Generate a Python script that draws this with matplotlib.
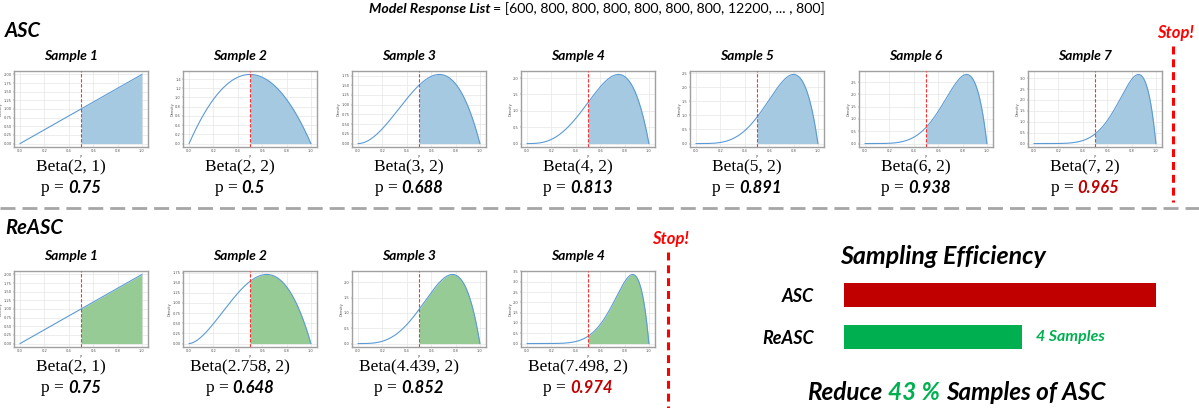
import math

import matplotlib
matplotlib.use("Agg")
import matplotlib.pyplot as plt
import numpy as np

# Model responses shown in the header
RESPONSE_LIST = [600, 800, 800, 800, 800, 800, 800, 12200]
RESPONSE_TAIL = 800

# ASC: Beta(alpha, beta) posterior after each sample, and P(p > 0.5)
ASC_ALPHA = [2, 2, 3, 4, 5, 6, 7]
ASC_BETA = [1, 2, 2, 2, 2, 2, 2]
ASC_P = ["0.75", "0.5", "0.688", "0.813", "0.891", "0.938", "0.965"]

# ReASC
REASC_ALPHA = [2, 2.758, 4.439, 7.498]
REASC_BETA = [1, 2, 2, 2]
REASC_P = ["0.75", "0.648", "0.852", "0.974"]

THRESHOLD = 0.5

# Sampling efficiency
EFF_METHODS = ["ASC", "ReASC"]
EFF_SAMPLES = [7, 4]
REDUCE_PCT = 43

W, H = 1199, 408
SANS = "Lato"
SERIF = "Liberation Serif"
DARK_RED = "#C00000"
GREEN = "#00B050"


def beta_pdf(x, a, b):
    norm = math.gamma(a) * math.gamma(b) / math.gamma(a + b)
    return x ** (a - 1) * (1 - x) ** (b - 1) / norm


def px_rect(x0, y0, x1, y1):
    return [x0 / W, 1 - y1 / H, (x1 - x0) / W, (y1 - y0) / H]


def draw_mini(fig, rect, a, b, fill_color):
    ax = fig.add_axes(rect)
    x = np.linspace(0, 1, 400)
    y = beta_pdf(x, a, b)
    ax.plot(x, y, color="#5B9BD5", lw=0.8, zorder=3)
    mask = x >= THRESHOLD
    ax.fill_between(x[mask], 0, y[mask], color=fill_color, lw=0, zorder=2)
    ax.axvline(THRESHOLD, color="#FF3030", ls=(0, (3, 1.5)), lw=0.8, zorder=4)
    ax.set_xticks([0, 0.2, 0.4, 0.6, 0.8, 1.0])
    ax.tick_params(labelsize=2.6, length=0.8, width=0.3, pad=0.8,
                   colors="#555555")
    ax.grid(True, color="#E6E6E6", lw=0.5)
    ax.set_axisbelow(True)
    ax.set_xlabel("p", fontsize=2.6, labelpad=0.8, color="#555555")
    ax.set_ylabel("Density", fontsize=2.6, labelpad=0.5, color="#555555")
    for s in ax.spines.values():
        s.set_color("#A0A0A0")
        s.set_linewidth(1.0)
    return ax


def place_parts(ax, renderer, cx, y, parts, gap=4):
    """Lay out differently styled text pieces side by side, centred on cx."""
    texts = [ax.text(0, y, s, ha="left", va="center", **kw) for s, kw in parts]
    widths = [t.get_window_extent(renderer).width for t in texts]
    total = sum(widths) + gap * (len(texts) - 1)
    x = cx - total / 2
    for t, w in zip(texts, widths):
        t.set_x(x)
        x += w + gap


fig = plt.figure(figsize=(W / 100, H / 100), dpi=100)
renderer = fig.canvas.get_renderer()

# overlay axes in pixel coordinates for text and decorations
ov = fig.add_axes([0, 0, 1, 1])
ov.set_xlim(0, W)
ov.set_ylim(H, 0)
ov.axis("off")

bi = dict(family=SANS, weight="bold", style="italic")

# header
resp = ", ".join(str(v) for v in RESPONSE_LIST) + f", ... , {RESPONSE_TAIL}"
place_parts(ov, renderer, 597, 9, [
    ("Model Response List", dict(fontsize=10.2, color="black", **bi)),
    ("= [" + resp + "]", dict(fontsize=10.2, family=SANS, color="black")),
], gap=3)

ov.text(5, 31, "ASC", fontsize=14.5, ha="left", va="center", **bi)
ov.text(5, 228, "ReASC", fontsize=14.5, ha="left", va="center", **bi)

rows = [
    (ASC_ALPHA, ASC_BETA, ASC_P, 71, "#A5C9E1"),
    (REASC_ALPHA, REASC_BETA, REASC_P, 271, "#96CB96"),
]
for alphas, betas, pvals, top, fill in rows:
    n = len(alphas)
    for i, (a, b, p) in enumerate(zip(alphas, betas, pvals)):
        left = 14 + 169 * i
        draw_mini(fig, px_rect(left, top, left + 134, top + 76), a, b, fill)
        cx = left + 57
        ov.text(cx, top - 15, f"Sample {i + 1}", fontsize=10, ha="center",
                va="center", **bi)
        ov.text(cx, top + 96, f"Beta({a:g}, {b:g})", fontsize=12.5,
                family=SERIF, ha="center", va="center")
        pcol = DARK_RED if i == n - 1 else "black"
        place_parts(ov, renderer, cx, top + 117, [
            ("p =", dict(fontsize=12.5, family=SERIF, color="black")),
            (p, dict(fontsize=12, color=pcol, **bi)),
        ], gap=4)

# stop markers
for sx, y0, y1 in [(1173, 46, 202), (668, 252, 408)]:
    ov.plot([sx, sx], [y0, y1], color="#FF0000", lw=2.2, ls=(0, (2.6, 1.6)))
    ov.text(sx + 2, y0 - 13, "Stop!", color="#FF0000", fontsize=12,
            ha="center", va="center", **bi)

# separator
ov.plot([0, W], [208, 208], color="#A6A6A6", lw=2, ls=(0, (5.4, 2.5)))

# sampling efficiency
ov.text(943, 257, "Sampling Efficiency", fontsize=18, ha="center",
        va="center", **bi)
bx = fig.add_axes(px_rect(844, 274, 1156, 358))
ypos = np.arange(len(EFF_METHODS))
bx.barh(ypos, EFF_SAMPLES, height=0.57, color=[DARK_RED, GREEN])
bx.set_xlim(0, max(EFF_SAMPLES))
bx.set_ylim(len(EFF_METHODS) - 0.5, -0.5)
bx.set_yticks(ypos)
bx.set_yticklabels(EFF_METHODS, fontsize=13, **bi)
bx.tick_params(axis="y", length=0, pad=22)
bx.set_xticks([])
for s in bx.spines.values():
    s.set_visible(False)
bx.patch.set_alpha(0)
bx.annotate(f"{EFF_SAMPLES[1]} Samples", xy=(EFF_SAMPLES[1], 1),
            xytext=(10, 0), textcoords="offset points", va="center",
            ha="left", color=GREEN, fontsize=11.5, **bi)

place_parts(ov, renderer, 956, 393, [
    ("Reduce", dict(fontsize=17.5, color="black", **bi)),
    (f"{REDUCE_PCT} %", dict(fontsize=17.5, color=GREEN, **bi)),
    ("Samples of ASC", dict(fontsize=17.5, color="black", **bi)),
], gap=6)

fig.savefig("out.png", dpi=100)
